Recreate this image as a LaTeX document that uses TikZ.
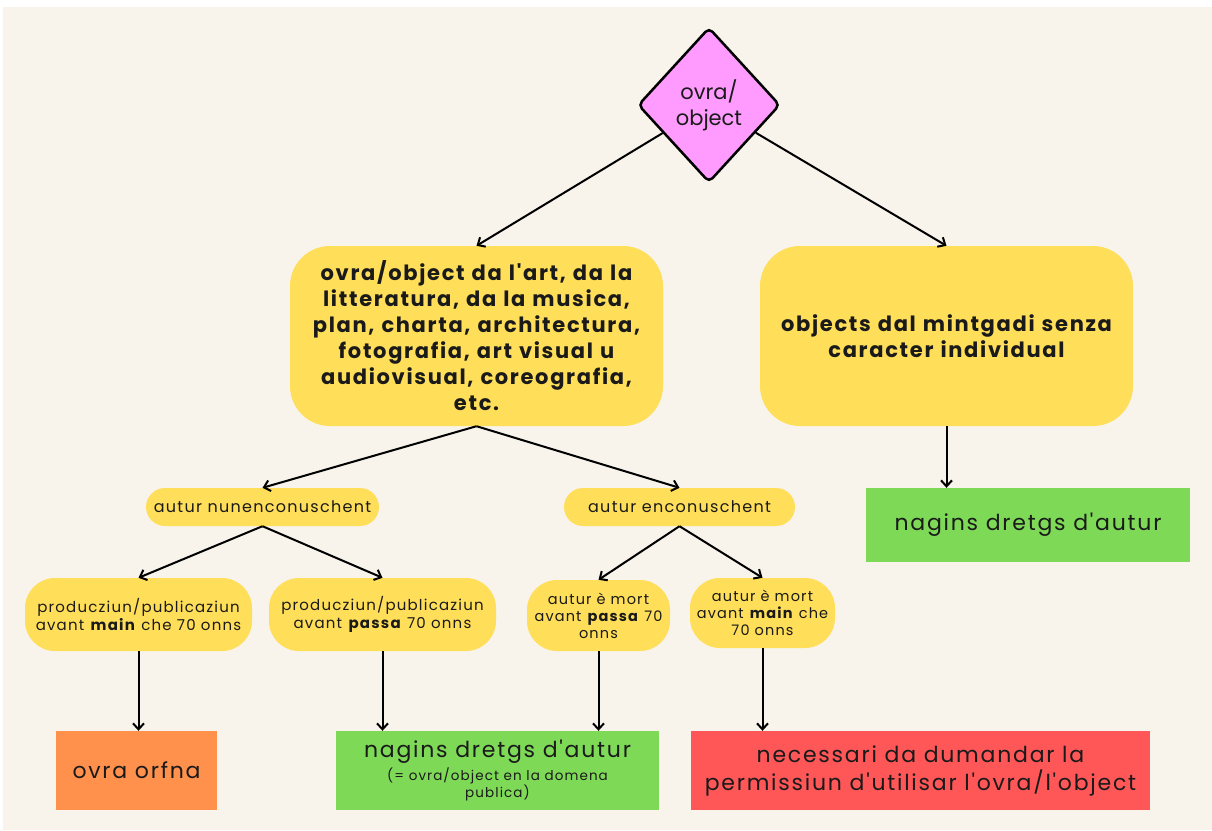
\documentclass[tikz,border=0pt]{standalone}
\usepackage{fontspec}
\setmainfont{Poppins}[LetterSpace=8,Ligatures=TeXOff]
\newfontfamily\plainfont{Poppins}[Ligatures=TeXOff]
\usetikzlibrary{shapes.geometric,arrows.meta}
\definecolor{bg}{HTML}{F8F4EC}
\definecolor{yel}{HTML}{FFDE59}
\definecolor{grn}{HTML}{7ED957}
\definecolor{org}{HTML}{FF914D}
\definecolor{redb}{HTML}{FF5757}
\definecolor{mag}{HTML}{FF9BFF}
\definecolor{ink}{HTML}{1A1A1A}
\newcommand\subtxt[1]{{\fontsize{13.5}{17}\selectfont #1}}
\tikzset{
  x=1pt,y=-1pt,
  every node/.style={text=ink,inner sep=0pt,align=center},
  bigbox/.style={fill=yel,rounded corners=40pt,minimum width=373pt,minimum height=180pt,font=\fontsize{21}{26}\selectfont\bfseries},
  pill/.style={fill=yel,rounded corners=19pt,minimum height=38pt,font=\fontsize{16}{18}\selectfont},
  tallpill/.style={fill=yel,rounded corners=30pt,font=\fontsize{15}{18}\selectfont},
  endbox/.style={minimum height=79pt,font=\fontsize{22}{28}\selectfont},
  conn/.style={draw=black,line width=2pt,-{Straight Barb[length=6pt,width=11pt,line width=2pt]}},
}
\begin{document}
\begin{tikzpicture}
\fill[white] (0,0) rectangle (1212,830);
\fill[bg] (3,7) rectangle (1212,830);
\useasboundingbox (0,0) rectangle (1212,830);

\node[diamond,aspect=0.91,minimum width=142pt,minimum height=155pt,draw=black,line width=2.5pt,rounded corners=5pt,fill=mag,font=\plainfont\fontsize{21}{26}\selectfont] (dia) at (709,105) {ovra/\\object};

\node[bigbox,text width=365pt] (big) at (476.5,336) {ovra/object da l'art, da la\\litteratura, da la musica,\\plan, charta, architectura,\\fotografia, art visual u\\audiovisual, coreografia,\\etc.};
\node[bigbox,text width=365pt] (rgt) at (946.5,336) {objects dal mintgadi senza\\caracter individual};

\node[pill,minimum width=233pt] (nun) at (262.5,507) {autur nunenconuschent};
\node[pill,minimum width=231pt] (enc) at (679.5,507) {autur enconuschent};

\node[endbox,fill=grn,minimum width=324pt,minimum height=74pt] (g1) at (1028,525) {nagins dretgs d'autur};

\node[tallpill,minimum width=227pt,minimum height=73pt] (p1) at (138.5,614.5) {producziun/publicaziun\\avant \textbf{main} che 70 onns};
\node[tallpill,minimum width=227pt,minimum height=73pt] (p2) at (382.5,614.5) {producziun/publicaziun\\avant \textbf{passa} 70 onns};
\node[tallpill,minimum width=143pt,minimum height=71pt,font=\fontsize{14.5}{17}\selectfont] (m1) at (598.5,615.5) {autur è mort\\avant \textbf{passa} 70\\onns};
\node[tallpill,minimum width=145pt,minimum height=70pt,font=\fontsize{14.5}{17}\selectfont] (m2) at (762.5,613) {autur è mort\\avant \textbf{main} che\\70 onns};

\node[endbox,fill=org,minimum width=161pt] (orf) at (136.5,770.5) {ovra orfna};
\node[endbox,fill=grn,minimum width=323pt] (g2) at (497.5,770.5) {nagins dretgs d'autur\\[-5pt]\subtxt{(= ovra/object en la domena}\\[-11pt]\subtxt{publica)}};
\node[endbox,fill=redb,minimum width=459pt] (red) at (920.5,770.5) {necessari da dumandar la\\permissiun d'utilisar l'ovra/l'object};

\draw[conn] (dia) -- (big.north);
\draw[conn] (dia) -- (rgt.north);
\draw[conn] (big.south) -- (nun.north);
\draw[conn] (big.south) -- (enc.north);
\draw[conn] (rgt.south) -- (rgt.south |- g1.north);
\draw[conn] (nun.south) -- (p1.north);
\draw[conn] (nun.south) -- (p2.north);
\draw[conn] (enc.south) -- (m1.north);
\draw[conn] (enc.south) -- (m2.north);
\draw[conn] (p1.south) -- (p1.south |- orf.north);
\draw[conn] (p2.south) -- (p2.south |- g2.north);
\draw[conn] (m1.south) -- (m1.south |- g2.north);
\draw[conn] (m2.south) -- (m2.south |- red.north);
\end{tikzpicture}
\end{document}
